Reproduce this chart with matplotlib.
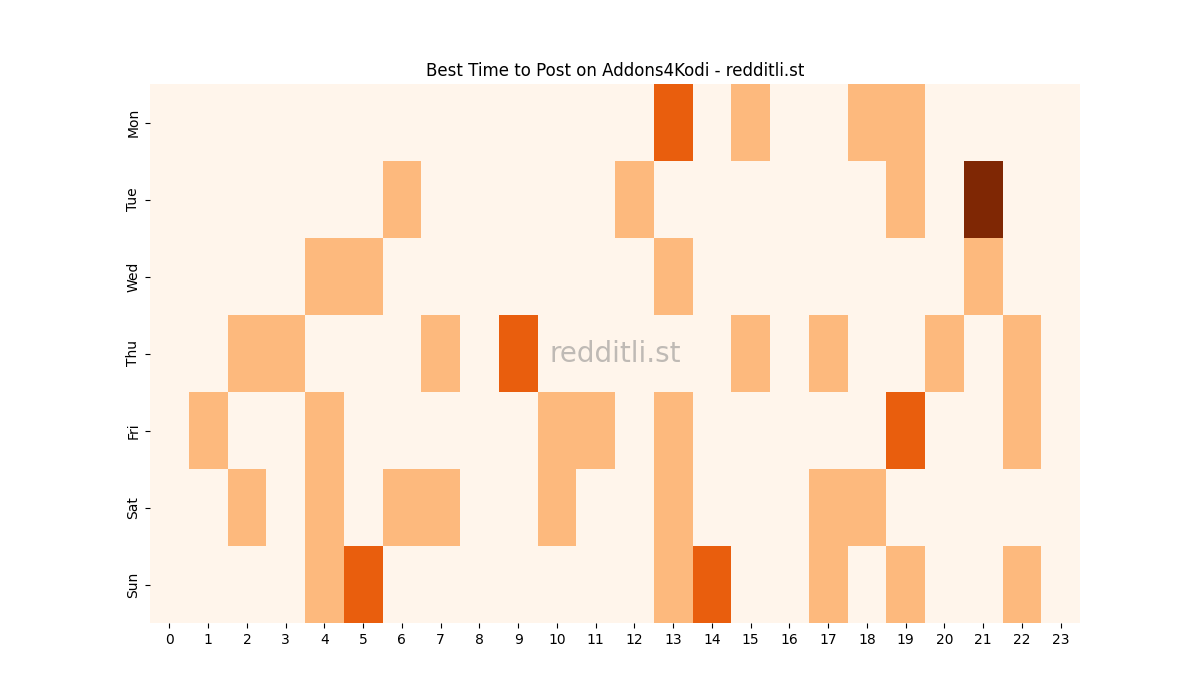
import matplotlib
matplotlib.use("Agg")
import matplotlib.pyplot as plt
import numpy as np

days = ["Mon", "Tue", "Wed", "Thu", "Fri", "Sat", "Sun"]
hours = [str(h) for h in range(24)]
mon = [0,0,0,0,0,0,0,0,0,0,0,0,0,2,0,1,0,0,1,1,0,0,0,0]
tue = [0,0,0,0,0,0,1,0,0,0,0,0,1,0,0,0,0,0,0,1,0,3,0,0]
wed = [0,0,0,0,1,1,0,0,0,0,0,0,0,1,0,0,0,0,0,0,0,1,0,0]
thu = [0,0,1,1,0,0,0,1,0,2,0,0,0,0,0,1,0,1,0,0,1,0,1,0]
fri = [0,1,0,0,1,0,0,0,0,0,1,1,0,1,0,0,0,0,0,2,0,0,1,0]
sat = [0,0,1,0,1,0,1,1,0,0,1,0,0,1,0,0,0,1,1,0,0,0,0,0]
sun = [0,0,0,0,1,2,0,0,0,0,0,0,0,1,2,0,0,1,0,1,0,0,1,0]

data = np.array([mon, tue, wed, thu, fri, sat, sun])

fig, ax = plt.subplots(figsize=(12, 7), dpi=100)
ax.pcolormesh(data, cmap="Oranges", vmin=0, vmax=3)
ax.set_xlim(0, 24)
ax.set_ylim(7, 0)
ax.set_xticks(np.arange(24) + 0.5)
ax.set_xticklabels(hours)
ax.set_yticks(np.arange(7) + 0.5)
ax.set_yticklabels(days, rotation=90, va="center")
for s in ax.spines.values():
    s.set_visible(False)
ax.set_title("Best Time to Post on Addons4Kodi - redditli.st")
ax.text(0.5, 0.5, "redditli.st", transform=ax.transAxes, ha="center", va="center",
        fontsize=20, color="gray", alpha=0.5)
fig.savefig("out.png")
